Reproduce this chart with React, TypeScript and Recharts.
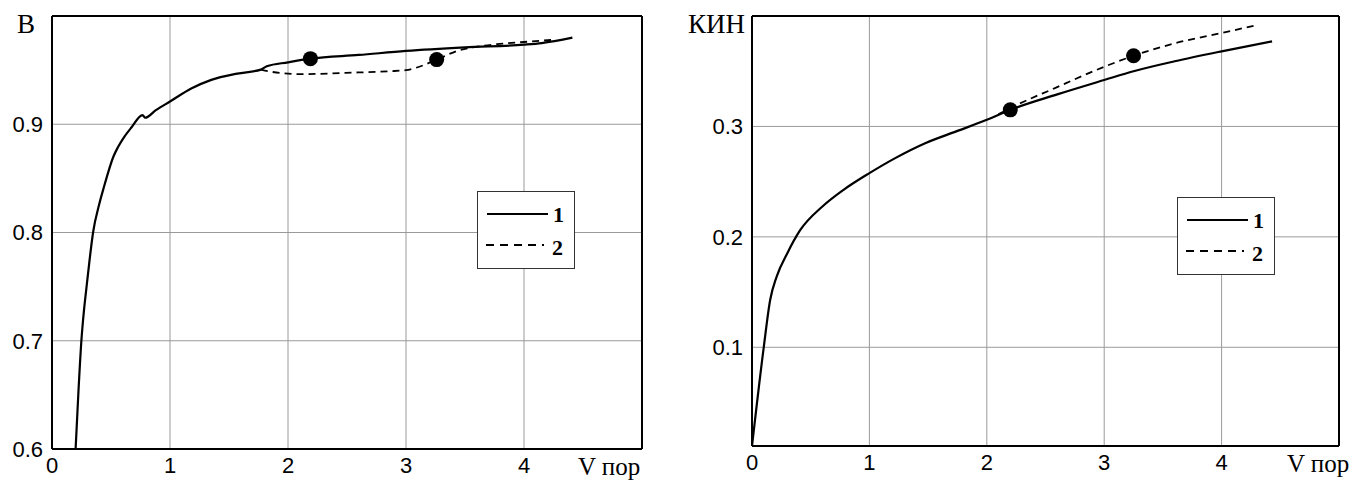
import React from "react";
import {
  ComposedChart,
  Line,
  Scatter,
  XAxis,
  YAxis,
  CartesianGrid,
  ReferenceLine,
  Legend,
} from "recharts";

// left panel: В vs V пор
const bX1 = [0.2, 0.225, 0.249, 0.27, 0.293, 0.32, 0.348, 0.4, 0.44, 0.48, 0.52, 0.56, 0.604, 0.673, 0.767, 0.79, 0.88, 1.0, 1.18, 1.35, 1.57, 1.77, 1.82, 2.0, 2.19, 2.6, 3.0, 3.5, 4.0, 4.15, 4.41];
const bY1 = [0.6, 0.655, 0.7, 0.727, 0.75, 0.776, 0.8, 0.826, 0.842, 0.857, 0.87, 0.879, 0.887, 0.897, 0.9085, 0.906, 0.913, 0.921, 0.933, 0.941, 0.9468, 0.9505, 0.9535, 0.9572, 0.9606, 0.964, 0.9677, 0.971, 0.9735, 0.975, 0.98];
const bX2 = [1.77, 1.9, 2.12, 2.49, 2.86, 3.0, 3.08, 3.26, 3.44, 3.59, 3.77, 4.0, 4.25];
const bY2 = [0.9505, 0.9478, 0.9463, 0.9475, 0.949, 0.95, 0.952, 0.9597, 0.968, 0.9714, 0.974, 0.976, 0.978];
const bDotsX = [2.19, 3.26];
const bDotsY = [0.9606, 0.9597];

// right panel: КИН vs V пор
const kX1 = [0, 0.1, 0.155, 0.21, 0.3, 0.41, 0.6, 0.78, 1.0, 1.22, 1.48, 1.74, 2.0, 2.2, 2.6, 3.0, 3.25, 3.6, 4.0, 4.43];
const kY1 = [0.0106, 0.1, 0.143, 0.164, 0.185, 0.206, 0.2275, 0.2426, 0.2577, 0.2713, 0.285, 0.2955, 0.306, 0.315, 0.329, 0.342, 0.35, 0.359, 0.368, 0.377];
const kX2 = [2.1, 2.2, 2.58, 3.0, 3.25, 3.61, 4.0, 4.31];
const kY2 = [0.311, 0.3166, 0.3347, 0.354, 0.364, 0.3755, 0.3846, 0.392];
const kDotsX = [2.2, 3.25];
const kDotsY = [0.315, 0.364];

const xTicks = [0, 1, 2, 3, 4];
const bTicks = [0.6, 0.7, 0.8, 0.9];
const kTicks = [0.1, 0.2, 0.3];
const legendNames = ["1", "2"];

const zip = (xs: number[], ys: number[]) => xs.map((x, i) => ({ x, y: ys[i] }));

const sans = "'Liberation Sans', Arial, sans-serif";
const serif = "'Liberation Serif', 'Times New Roman', serif";

function LegendBox() {
  return (
    <div
      style={{
        width: 98,
        height: 78,
        border: "1.5px solid #333",
        boxSizing: "border-box",
        background: "#fff",
      }}
    >
      <svg width={96} height={75}>
        <line x1={9} y1={22} x2={70} y2={22} stroke="#000" strokeWidth={2} />
        <text x={75} y={30} fontFamily={serif} fontWeight="bold" fontSize={22}>
          {legendNames[0]}
        </text>
        <line x1={8} y1={53} x2={66} y2={53} stroke="#000" strokeWidth={1.8} strokeDasharray="8 6" />
        <text x={74} y={63} fontFamily={serif} fontWeight="bold" fontSize={22}>
          {legendNames[1]}
        </text>
      </svg>
    </div>
  );
}

type PanelProps = {
  width: number;
  yWidth: number;
  xHeight: number;
  right: number;
  yDomain: [number, number];
  yTicks: number[];
  s1: { x: number; y: number }[];
  s2: { x: number; y: number }[];
  dots: { x: number; y: number }[];
  yLabel: string;
  yLabelX: number;
  xLabelX: number;
  legendLeft: number;
  legendTop: number;
};

function Panel(p: PanelProps) {
  return (
    <ComposedChart width={p.width} height={483} margin={{ top: 16, right: p.right, bottom: 0, left: 0 }}>
      <CartesianGrid stroke="#9a9a9a" strokeWidth={1} />
      <XAxis
        type="number"
        dataKey="x"
        domain={[0, 5]}
        ticks={xTicks}
        allowDataOverflow
        height={p.xHeight}
        tickLine={false}
        axisLine={{ stroke: "#000", strokeWidth: 2 }}
        tick={{ fill: "#000", fontSize: 22, fontFamily: sans }}
        tickMargin={2}
        label={{
          content: ({ viewBox }: any) => (
            <text x={p.xLabelX} y={viewBox.y + 26} fontFamily={serif} fontSize={25} fill="#000">
              V пор
            </text>
          ),
        }}
      />
      <YAxis
        type="number"
        dataKey="y"
        domain={p.yDomain}
        ticks={p.yTicks}
        allowDataOverflow
        width={p.yWidth}
        tickLine={false}
        axisLine={{ stroke: "#000", strokeWidth: 2 }}
        tick={{ fill: "#000", fontSize: 22, fontFamily: sans }}
        tickMargin={3}
        tickFormatter={(v: number) => v.toFixed(1)}
        label={{
          content: ({ viewBox }: any) => (
            <text x={p.yLabelX} y={viewBox.y + 17} fontFamily={serif} fontSize={27} fill="#000">
              {p.yLabel}
            </text>
          ),
        }}
      />
      <ReferenceLine y={p.yDomain[1]} stroke="#000" strokeWidth={2} />
      <ReferenceLine x={5} stroke="#000" strokeWidth={2} />
      <Legend
        layout="horizontal"
        verticalAlign="middle"
        align="center"
        content={() => <LegendBox />}
        wrapperStyle={{ left: p.legendLeft, top: p.legendTop, width: 98, height: 78 }}
      />
      <Line
        data={p.s2}
        dataKey="y"
        type="monotone"
        stroke="#000"
        strokeWidth={1.8}
        strokeDasharray="7 5"
        dot={false}
        isAnimationActive={false}
        legendType="none"
      />
      <Line
        data={p.s1}
        dataKey="y"
        type="monotone"
        stroke="#000"
        strokeWidth={2.2}
        dot={false}
        isAnimationActive={false}
        legendType="none"
      />
      <Scatter
        data={p.dots}
        dataKey="y"
        fill="#000"
        isAnimationActive={false}
        shape={(s: any) => <circle cx={s.cx} cy={s.cy} r={7.5} fill="#000" />}
        legendType="none"
      />
    </ComposedChart>
  );
}

export default function App() {
  return (
    <div style={{ position: "absolute", left: 0, top: 0, width: 1356, height: 483, background: "#fff" }}>
      <div style={{ position: "absolute", left: 0, top: 0 }}>
        <Panel
          width={680}
          yWidth={52}
          xHeight={34}
          right={38}
          yDomain={[0.6, 1.0]}
          yTicks={bTicks}
          s1={zip(bX1, bY1)}
          s2={zip(bX2, bY2)}
          dots={zip(bDotsX, bDotsY)}
          yLabel="В"
          yLabelX={17}
          xLabelX={578}
          legendLeft={477}
          legendTop={191}
        />
      </div>
      <div style={{ position: "absolute", left: 680, top: 0 }}>
        <Panel
          width={676}
          yWidth={72}
          xHeight={37}
          right={17}
          yDomain={[0.0106, 0.4]}
          yTicks={kTicks}
          s1={zip(kX1, kY1)}
          s2={zip(kX2, kY2)}
          dots={zip(kDotsX, kDotsY)}
          yLabel="КИН"
          yLabelX={8}
          xLabelX={607}
          legendLeft={497}
          legendTop={197}
        />
      </div>
    </div>
  );
}
